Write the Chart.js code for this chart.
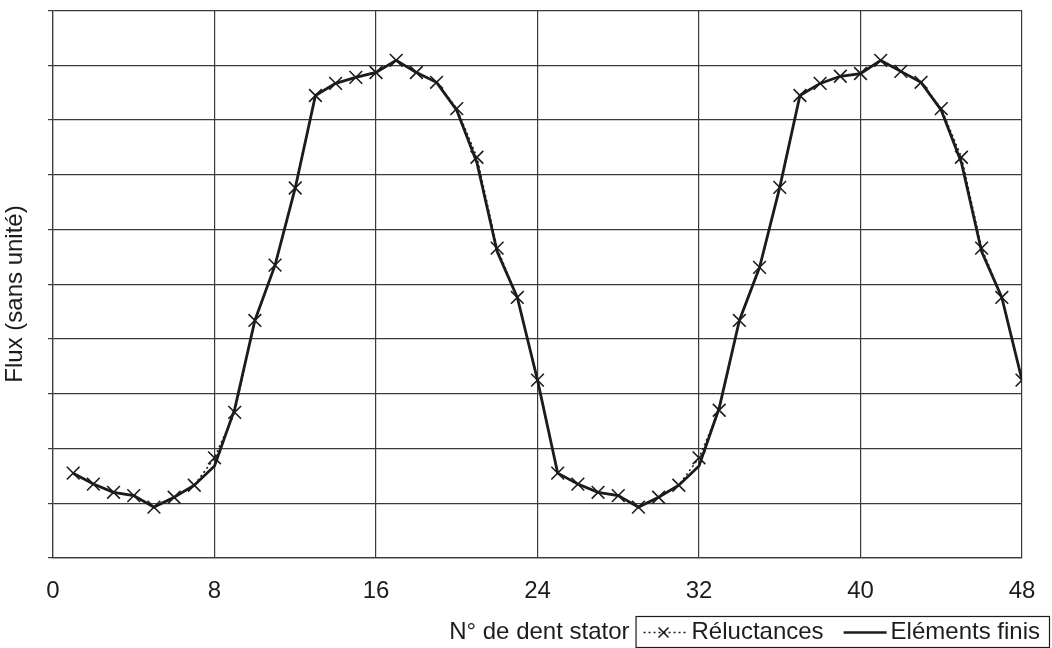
<!DOCTYPE html>
<html><head><meta charset="utf-8">
<script src="https://cdn.jsdelivr.net/npm/chart.js@4/dist/chart.umd.min.js"></script>
<style>html,body{margin:0;padding:0;background:#fff;}#wrap{width:1052px;height:648px;}</style>
</head><body><div id="wrap"><canvas id="c" width="1052" height="648"></canvas></div>
<script>
// ---- data ----
const teeth = [1,2,3,4,5,6,7,8,9,10,11,12,13,14,15,16,17,18,19,20,21,22,23,24,
               25,26,27,28,29,30,31,32,33,34,35,36,37,38,39,40,41,42,43,44,45,46,47,48];
const reluctances = [1.55,1.35,1.20,1.14,0.93,1.11,1.33,1.83,2.66,4.34,5.35,6.76,
                     8.45,8.67,8.78,8.87,9.09,8.87,8.69,8.21,7.32,5.66,4.76,3.25,
                     1.55,1.35,1.20,1.14,0.93,1.11,1.33,1.83,2.70,4.34,5.31,6.77,
                     8.45,8.67,8.80,8.85,9.09,8.89,8.69,8.21,7.32,5.66,4.76,3.25];
const elementsFinis = [1.55,1.35,1.20,1.14,0.93,1.11,1.33,1.68,2.72,4.34,5.35,6.76,
                       8.45,8.67,8.78,8.87,9.09,8.87,8.69,8.18,7.22,5.60,4.76,3.25,
                       1.55,1.35,1.20,1.14,0.93,1.11,1.33,1.68,2.74,4.34,5.31,6.77,
                       8.45,8.67,8.80,8.85,9.09,8.89,8.69,8.18,7.22,5.60,4.76,3.25];
const xTickValues = [0,8,16,24,32,40,48];
const yGridValues = [0,1,2,3,4,5,6,7,8,9,10];
const seriesNames = ['Réluctances','Eléments finis'];
const xTitle = 'N° de dent stator';
const yTitle = 'Flux (sans unité)';

const FONT = "'Liberation Sans', Arial, Helvetica, sans-serif";
const FS = 24;
const INK = '#1c1c1c';
const GRID = '#3a3a3a';

const annotPlugin = {
  id: 'boxLegend',
  afterDraw(chart) {
    const ctx = chart.ctx;
    ctx.save();
    ctx.font = FS + 'px ' + FONT;
    ctx.fillStyle = INK;
    ctx.textBaseline = 'middle';
    // y axis title
    ctx.save();
    ctx.translate(15, 294);
    ctx.rotate(-Math.PI / 2);
    ctx.textAlign = 'center';
    ctx.fillText(yTitle, 0, 0);
    ctx.restore();
    // legend box
    const boxRight = 1049, boxTop = 616, boxH = 31, cy = boxTop + boxH / 2 + 1;
    const w1 = ctx.measureText(seriesNames[0]).width;
    const w2 = ctx.measureText(seriesNames[1]).width;
    const padL = 6, s1 = 44, g1 = 6, g2 = 20, s2 = 43, g3 = 4, padR = 9;
    const boxW = padL + s1 + g1 + w1 + g2 + s2 + g3 + w2 + padR;
    const boxLeft = boxRight - boxW;
    ctx.strokeStyle = INK; ctx.lineWidth = 1.2;
    ctx.strokeRect(boxLeft + 0.5, boxTop + 0.5, boxW, boxH);
    let x = boxLeft + padL;
    ctx.setLineDash([2, 3]); ctx.lineWidth = 1.6;
    ctx.beginPath(); ctx.moveTo(x + 2, cy); ctx.lineTo(x + s1, cy); ctx.stroke();
    ctx.setLineDash([]);
    const mx = x + s1 / 2, r = 5;
    ctx.beginPath(); ctx.moveTo(mx - r, cy - r); ctx.lineTo(mx + r, cy + r);
    ctx.moveTo(mx - r, cy + r); ctx.lineTo(mx + r, cy - r); ctx.stroke();
    x += s1 + g1;
    ctx.textAlign = 'left';
    ctx.fillText(seriesNames[0], x, cy);
    x += w1 + g2;
    ctx.lineWidth = 2.6;
    ctx.beginPath(); ctx.moveTo(x, cy); ctx.lineTo(x + s2, cy); ctx.stroke();
    x += s2 + g3;
    ctx.fillText(seriesNames[1], x, cy);
    // x axis title, left of the legend box
    ctx.textAlign = 'right';
    ctx.fillText(xTitle, boxLeft - 6, cy);
    ctx.restore();
  }
};

new Chart(document.getElementById('c'), {
  type: 'line',
  data: {
    datasets: [
      {
        label: seriesNames[0],
        data: teeth.map((t, i) => ({x: t, y: reluctances[i]})),
        borderColor: INK, borderWidth: 1.6, borderDash: [2, 3],
        pointStyle: 'crossRot', pointRadius: 9, pointBorderWidth: 1.6,
        pointBorderColor: INK, tension: 0, fill: false
      },
      {
        label: seriesNames[1],
        data: teeth.map((t, i) => ({x: t, y: elementsFinis[i]})),
        borderColor: INK, borderWidth: 2.8, pointRadius: 0, tension: 0, fill: false
      }
    ]
  },
  options: {
    responsive: false, animation: false,
    layout: { padding: { top: 10, right: 30, left: 0, bottom: 0 } },
    plugins: { legend: { display: false }, tooltip: { enabled: false } },
    scales: {
      x: {
        type: 'linear', min: 0, max: 48,
        afterBuildTicks: (s) => { s.ticks = xTickValues.map(v => ({value: v})); },
        afterFit: (s) => { s.height = 90; s.paddingLeft = 0; s.paddingRight = 0; },
        grid: { color: GRID, lineWidth: 1.2, drawTicks: false },
        border: { color: GRID, width: 1.2 },
        ticks: { color: INK, font: { family: FONT, size: FS }, padding: 19, maxRotation: 0 }
      },
      y: {
        type: 'linear', min: 0, max: 10,
        afterBuildTicks: (s) => { s.ticks = yGridValues.map(v => ({value: v})); },
        afterFit: (s) => { s.width = 53; s.paddingTop = 0; s.paddingBottom = 0; },
        grid: { color: GRID, lineWidth: 1.2, drawTicks: true, tickLength: 5 },
        border: { color: GRID, width: 1.2 },
        ticks: { display: false }
      }
    }
  },
  plugins: [annotPlugin]
});
</script>
</body></html>
